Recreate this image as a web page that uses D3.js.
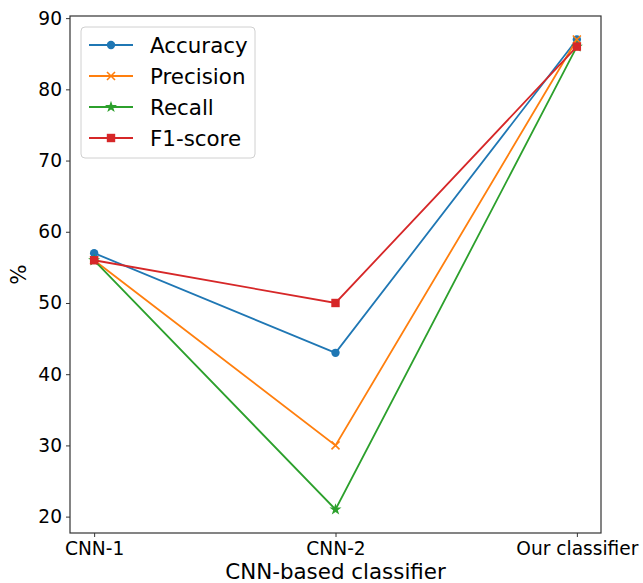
<!DOCTYPE html>
<html>
<head>
<meta charset="utf-8">
<script src="https://cdn.jsdelivr.net/npm/d3@7"></script>
<style>
  html, body { margin: 0; padding: 0; background: #fff; }
  svg { display: block; font-family: "DejaVu Sans", sans-serif; }
</style>
</head>
<body>
<svg id="chart" width="643" height="583"></svg>
<script>
// Classifier comparison data
const categories = ["CNN-1", "CNN-2", "Our classifier"];
const accuracy  = [57, 43, 87];
const precision = [56, 30, 87];
const recall    = [56, 21, 86];
const f1score   = [56, 50, 86];
const yTicks = [20, 30, 40, 50, 60, 70, 80, 90];

const series = [
  { name: "Accuracy",  values: accuracy,  color: "#1f77b4", marker: "circle" },
  { name: "Precision", values: precision, color: "#ff7f0e", marker: "x" },
  { name: "Recall",    values: recall,    color: "#2ca02c", marker: "star" },
  { name: "F1-score",  values: f1score,   color: "#d62728", marker: "square" }
];

const svg = d3.select("#chart");
const margin = { left: 70, right: 42, top: 16, bottom: 50 };
const W = 643, H = 583;
const plotW = W - margin.left - margin.right;
const plotH = H - margin.top - margin.bottom;

const g = svg.append("g").attr("transform", `translate(${margin.left},${margin.top})`);

const x = d3.scaleLinear().domain([-0.1, 2.1]).range([0, plotW]);
const y = d3.scaleLinear().domain([17.7, 90.3]).range([plotH, 0]);

// Axes
const yAxis = d3.axisLeft(y).tickValues(yTicks).tickSize(4).tickPadding(4);
const xAxis = d3.axisBottom(x).tickValues([0, 1, 2]).tickFormat(i => categories[i]).tickSize(4).tickPadding(5);

const gy = g.append("g").call(yAxis);
const gx = g.append("g").attr("transform", `translate(0,${plotH})`).call(xAxis);
[gx, gy].forEach(a => {
  a.select(".domain").remove();
  a.selectAll(".tick line").attr("stroke", "#333").attr("stroke-width", 1);
  a.selectAll(".tick text").attr("fill", "#000").style("font-size", "18.6px").style("font-family", "DejaVu Sans");
});

// Frame
g.append("rect").attr("x", 0).attr("y", 0).attr("width", plotW).attr("height", plotH)
  .attr("fill", "none").attr("stroke", "#333").attr("stroke-width", 1.2);

// Axis labels
svg.append("text").attr("x", margin.left + plotW / 2).attr("y", 579)
  .attr("text-anchor", "middle").style("font-size", "21.4px").text("CNN-based classifier");
svg.append("text").attr("transform", `translate(26,${margin.top + plotH / 2}) rotate(-90)`)
  .attr("text-anchor", "middle").style("font-size", "21.4px").text("%");

// Marker drawing
function drawMarker(sel, type, color, cx, cy) {
  if (type === "circle") {
    sel.append("circle").attr("cx", cx).attr("cy", cy).attr("r", 4.2).attr("fill", color);
  } else if (type === "square") {
    sel.append("rect").attr("x", cx - 4.2).attr("y", cy - 4.2).attr("width", 8.4).attr("height", 8.4).attr("fill", color);
  } else if (type === "x") {
    const s = 4;
    sel.append("path").attr("d", `M${cx - s},${cy - s}L${cx + s},${cy + s}M${cx - s},${cy + s}L${cx + s},${cy - s}`)
      .attr("stroke", color).attr("stroke-width", 1.6).attr("fill", "none");
  } else if (type === "star") {
    sel.append("path").attr("d", d3.symbol().type(d3.symbolStar).size(45)())
      .attr("transform", `translate(${cx},${cy})`).attr("fill", color);
  }
}

const line = d3.line().x((d, i) => x(i)).y(d => y(d));

series.forEach(s => {
  const sg = g.append("g");
  sg.append("path").datum(s.values).attr("d", line)
    .attr("fill", "none").attr("stroke", s.color).attr("stroke-width", 1.8);
  s.values.forEach((v, i) => drawMarker(sg, s.marker, s.color, x(i), y(v)));
});

// Legend
const lg = svg.append("g");
lg.append("rect").attr("x", 81).attr("y", 27).attr("width", 174).attr("height", 131)
  .attr("rx", 4).attr("fill", "#fff").attr("fill-opacity", 0.8)
  .attr("stroke", "#d0d0d0").attr("stroke-width", 1);
series.forEach((s, i) => {
  const ly = 45 + i * 31;
  lg.append("line").attr("x1", 89).attr("x2", 133).attr("y1", ly).attr("y2", ly)
    .attr("stroke", s.color).attr("stroke-width", 1.8);
  drawMarker(lg, s.marker, s.color, 111, ly);
  lg.append("text").attr("x", 150).attr("y", ly + 8).style("font-size", "21.4px").text(s.name);
});
</script>
</body>
</html>
